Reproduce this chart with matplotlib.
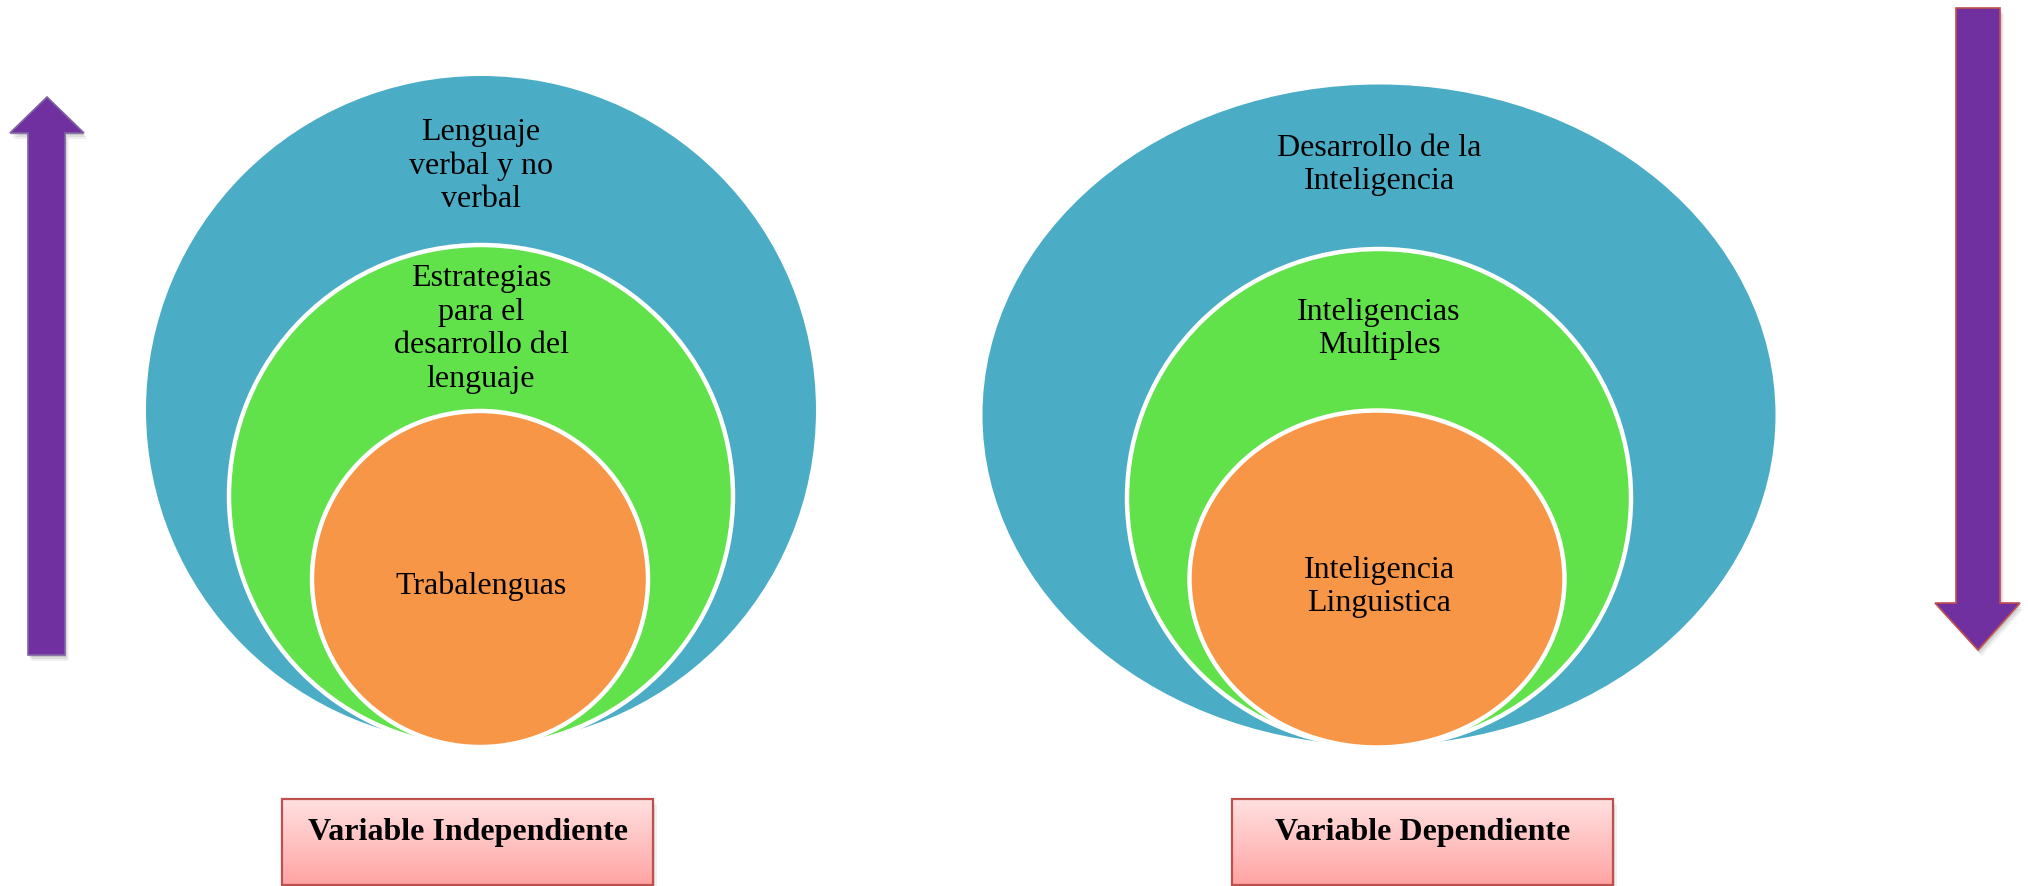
import matplotlib
matplotlib.use("Agg")
import matplotlib.pyplot as plt
import numpy as np
from matplotlib.patches import Ellipse, Rectangle, Polygon

# ---- content ----
left_labels = ["Lenguaje\nverbal y no\nverbal",
               "Estrategias\npara el\ndesarrollo del\nlenguaje",
               "Trabalenguas"]
right_labels = ["Desarrollo de la\nInteligencia",
                "Inteligencias\nMultiples",
                "Inteligencia\nLinguistica"]
box_labels = ["Variable Independiente", "Variable Dependiente"]
ring_colors = ["#4BACC6", "#62E24A", "#F79646"]
arrow_color = "#7030A0"

W, H = 2028, 887
fig = plt.figure(figsize=(W / 100, H / 100), dpi=100)
ax = fig.add_axes([0, 0, 1, 1])
ax.set_xlim(0, W)
ax.set_ylim(H, 0)
ax.axis("off")

FONT = "Liberation Serif"

# ---- nested circles (center x, center y, width, height) ----
left_geo = [(481, 411, 670, 668), (481, 497, 504, 502), (480, 580, 336, 336)]
right_geo = [(1379, 416, 793, 661), (1379, 499, 504, 498), (1377, 580, 375, 337)]
left_text_y = [166, 329, 586]
right_text_y = [165, 329, 587]

def draw_set(geo, labels, ty, cx):
    for i, ((x, y, w, h), col) in enumerate(zip(geo, ring_colors)):
        ec = "none" if i == 0 else "white"
        ax.add_patch(Ellipse((x, y), w, h, facecolor=col, edgecolor=ec,
                             lw=0 if i == 0 else 3.2, zorder=2 + i))
    for lab, y in zip(labels, ty):
        ax.text(cx, y, lab, ha="center", va="center", fontsize=23,
                family=FONT, linespacing=1.2, zorder=10, color="black")

draw_set(left_geo, left_labels, left_text_y, 481)
draw_set(right_geo, right_labels, right_text_y, 1379)

# ---- arrows ----
def shadowed_poly(pts, fc, ec):
    pts = np.array(pts, dtype=float)
    for k, a in [(6, 0.06), (4, 0.08), (2, 0.1)]:
        ax.add_patch(Polygon(pts + [k * 0.6, k], closed=True, facecolor="black",
                             edgecolor="none", alpha=a, zorder=1))
    ax.add_patch(Polygon(pts, closed=True, facecolor=fc, edgecolor=ec,
                         lw=1.2, zorder=5))

up_arrow = [(28, 656), (28, 134), (10, 134), (47, 98), (84, 134),
            (65, 134), (65, 656)]
shadowed_poly(up_arrow, arrow_color, "#8064A2")

down_arrow = [(1956, 9), (2000, 9), (2000, 604), (2020, 604), (1978, 651),
              (1935, 604), (1956, 604)]
shadowed_poly(down_arrow, arrow_color, "#C0504D")

# ---- boxes ----
grad = np.linspace(0, 1, 256).reshape(-1, 1)
top = np.array([1.0, 0.88, 0.88])
bot = np.array([1.0, 0.64, 0.64])
img = top[None, None, :] * (1 - grad[..., None]) + bot[None, None, :] * grad[..., None]

boxes = [(282, 800, 371, 86), (1232, 800, 381, 86)]
for (x, y, w, h), lab in zip(boxes, box_labels):
    for k, a in [(6, 0.06), (4, 0.08), (2, 0.1)]:
        ax.add_patch(Rectangle((x + k * 0.6, y + k), w, h, facecolor="black",
                               edgecolor="none", alpha=a, zorder=1))
    rect = Rectangle((x, y), w, h, facecolor="none", edgecolor="#C0504D",
                     lw=1.6, zorder=6)
    im = ax.imshow(img, extent=(x, x + w, y + h, y), aspect="auto", zorder=5)
    clip = Rectangle((x, y), w, h, transform=ax.transData)
    im.set_clip_path(clip)
    ax.add_patch(rect)
    ax.text(x + w / 2, 833, lab, ha="center", va="center", fontsize=23,
            fontweight="bold", family=FONT, zorder=10, color="black")

ax.set_xlim(0, W)
ax.set_ylim(H, 0)
fig.savefig("out.png", dpi=100)
